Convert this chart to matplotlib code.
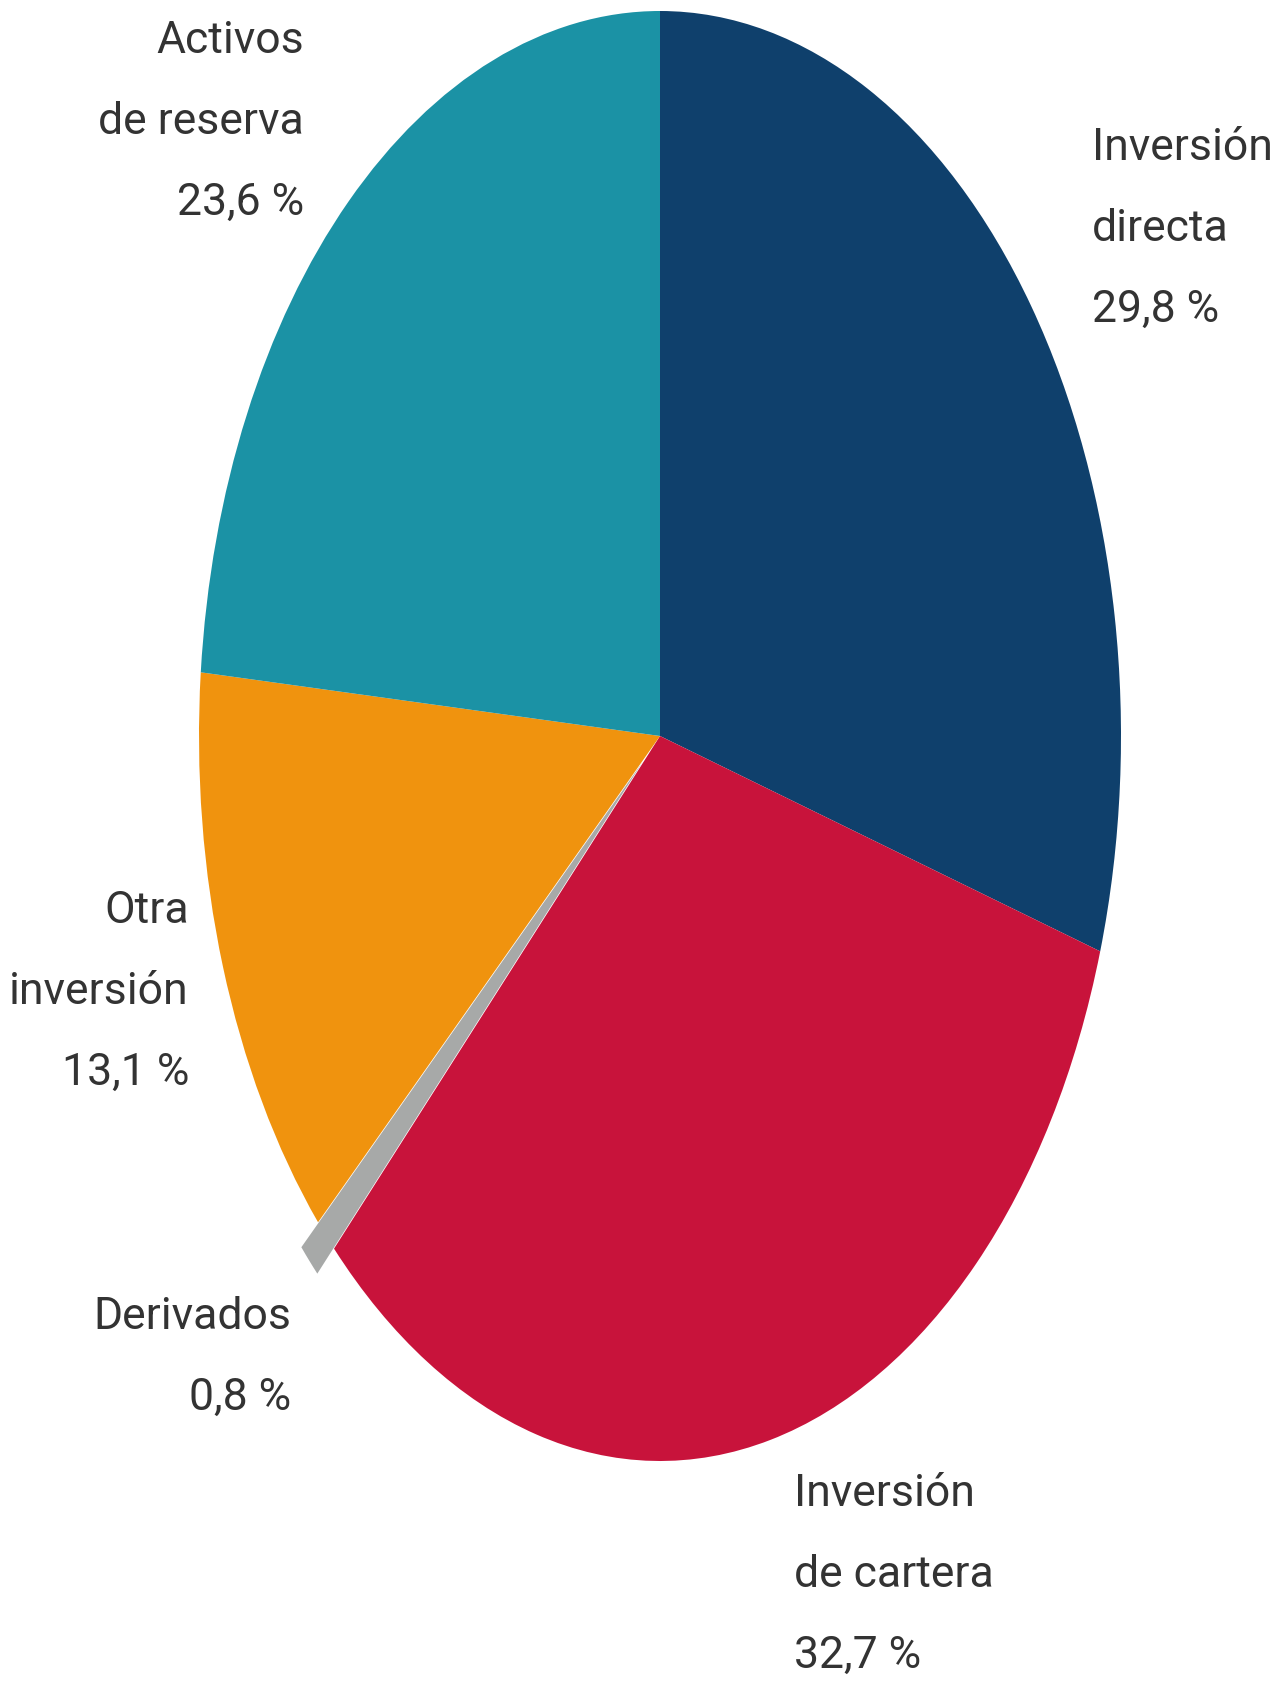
import matplotlib
matplotlib.use("Agg")
import matplotlib.pyplot as plt
from matplotlib import font_manager as fm

categories = ["Inversión\ndirecta", "Inversión\nde cartera", "Derivados", "Otra\ninversión", "Activos\nde reserva"]
values = [29.8, 32.7, 0.8, 13.1, 23.6]
value_labels = ["29,8 %", "32,7 %", "0,8 %", "13,1 %", "23,6 %"]
colors = ["#0F406C", "#C8133B", "#A7A9A8", "#F0930E", "#1B92A5"]
explode = [0, 0, 0.05, 0, 0]

names = {f.name for f in fm.fontManager.ttflist}
if "Liberation Sans Narrow" in names:
    FONT = "Liberation Sans Narrow"
    FS = 38
else:
    FONT = "Roboto"
    FS = 32

W, H = 1283, 1691
fig = plt.figure(figsize=(W / 100, H / 100), dpi=100)
cx, cy, rx, ry = 660, 736, 461, 725
ax = fig.add_axes([(cx - rx) / W, (H - (cy + ry)) / H, 2 * rx / W, 2 * ry / H])
ax.pie(values, colors=colors, startangle=90, counterclock=False, explode=explode,
       radius=1, wedgeprops=dict(linewidth=0))
ax.set_aspect("auto")
ax.set_xlim(-1, 1)
ax.set_ylim(-1, 1)
ax.axis("off")

# label anchors (figure pixels): x, y of first line center, alignment
label_pos = [
    (1092, 148, "left"),
    (794, 1494, "left"),
    (291, 1317, "right"),
    (189, 911, "right"),
    (304, 41, "right"),
]
line_gap = 81
for cat, val, (x, y, ha) in zip(categories, value_labels, label_pos):
    lines = cat.split("\n") + [val]
    for i, line in enumerate(lines):
        fig.text(x / W, 1 - (y + i * line_gap) / H, line, ha=ha, va="center",
                 fontsize=FS, family=FONT, color="#333333")

fig.savefig("out.png", dpi=100, facecolor="white")
